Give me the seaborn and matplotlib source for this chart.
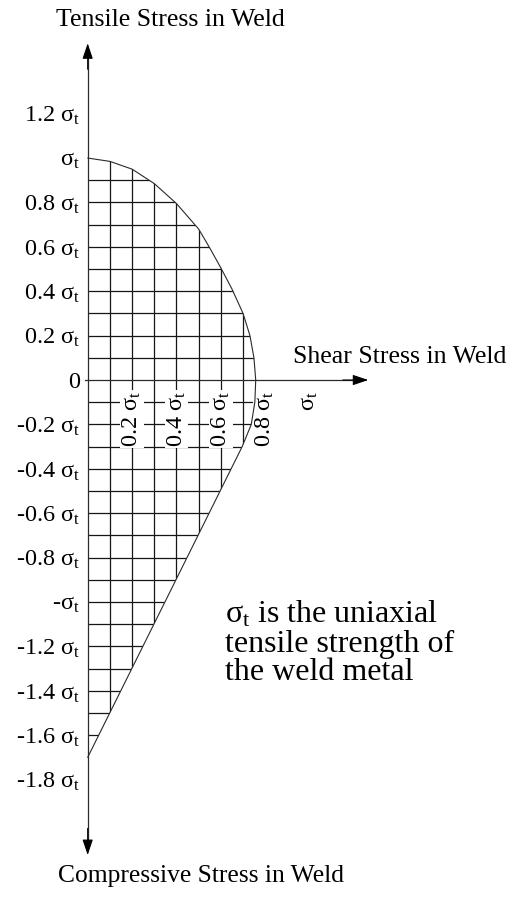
import matplotlib
matplotlib.use("Agg")
import matplotlib.pyplot as plt
from matplotlib.patches import Polygon
import numpy as np
import seaborn as sns

# Weld failure envelope: shear stress vs. normal stress (units of sigma_t)
shear = [0.0, 0.1, 0.2, 0.3, 0.4, 0.5, 0.55, 0.6, 0.65, 0.70,
         0.731, 0.749, 0.757, 0.753, 0.737, 0.696, 0.0]
normal = [1.0, 0.985, 0.950, 0.885, 0.795, 0.68, 0.595, 0.505, 0.41, 0.30,
          0.2, 0.1, 0.0, -0.1, -0.2, -0.3, -1.7]

# Hatching grid inside the envelope
grid_x = [0.1, 0.2, 0.3, 0.4, 0.5, 0.6, 0.7]
grid_y = [0.9, 0.8, 0.7, 0.6, 0.5, 0.4, 0.3, 0.2, 0.1,
          -0.1, -0.2, -0.3, -0.4, -0.5, -0.6, -0.7, -0.8, -0.9, -1.0,
          -1.1, -1.2, -1.3, -1.4, -1.5, -1.6]

# Axis ticks and labels
x_ticks = [0.2, 0.4, 0.6, 0.8, 1.0]
x_labels = [r"0.2 $\sigma_{t}$", r"0.4 $\sigma_{t}$", r"0.6 $\sigma_{t}$",
            r"0.8 $\sigma_{t}$", r"$\sigma_{t}$"]
y_ticks = [1.2, 1.0, 0.8, 0.6, 0.4, 0.2, 0.0, -0.2, -0.4, -0.6, -0.8,
           -1.0, -1.2, -1.4, -1.6, -1.8]
y_labels = [r"1.2 $\sigma_{t}$", r"$\sigma_{t}$", r"0.8 $\sigma_{t}$",
            r"0.6 $\sigma_{t}$", r"0.4 $\sigma_{t}$", r"0.2 $\sigma_{t}$", "0",
            r"-0.2 $\sigma_{t}$", r"-0.4 $\sigma_{t}$", r"-0.6 $\sigma_{t}$",
            r"-0.8 $\sigma_{t}$", r"-$\sigma_{t}$", r"-1.2 $\sigma_{t}$",
            r"-1.4 $\sigma_{t}$", r"-1.6 $\sigma_{t}$", r"-1.8 $\sigma_{t}$"]

note_lines = [r"$\sigma_{t}$ is the uniaxial", "tensile strength of",
              "the weld metal"]

sns.set_theme(style="white")
plt.rcParams["font.family"] = ["Liberation Serif", "DejaVu Serif"]
plt.rcParams["mathtext.fontset"] = "custom"
plt.rcParams["mathtext.rm"] = "Liberation Serif"
plt.rcParams["mathtext.it"] = "Liberation Serif"
plt.rcParams["mathtext.bf"] = "Liberation Serif:bold"

ink = "#2a2a2a"
grid_ink = "#161616"

fig = plt.figure(figsize=(5.11, 8.97), dpi=100)
ax = fig.add_axes([0, 0, 1, 1])
ax.set_xlim(-0.395, 1.907)
ax.set_ylim(-2.329, 1.712)
ax.set_facecolor("white")

# Envelope outline
sns.lineplot(x=shear, y=normal, sort=False, estimator=None, ax=ax,
             color=ink, linewidth=0.8, zorder=3)

# Region enclosed by the envelope and the vertical axis, used to clip the grid
region = Polygon(np.column_stack([shear, normal]), closed=True,
                 transform=ax.transData, facecolor="none", edgecolor="none")
ax.add_patch(region)

hl = ax.hlines(grid_y, 0.0, 0.8, colors=grid_ink, linewidth=0.9, zorder=2)
vl = ax.vlines(grid_x, -1.7, 1.0, colors=grid_ink, linewidth=0.9, zorder=2)
hl.set_clip_path(region)
vl.set_clip_path(region)

# Axes through the origin
for side in ["top", "right"]:
    ax.spines[side].set_visible(False)
ax.spines["left"].set_position(("data", 0))
ax.spines["bottom"].set_position(("data", 0))
ax.spines["left"].set_bounds(-2.10, 1.48)
ax.spines["bottom"].set_bounds(-0.012, 1.23)
for side in ["left", "bottom"]:
    ax.spines[side].set_color(ink)
    ax.spines[side].set_linewidth(0.9)
ax.set_axisbelow(False)

ax.set_yticks(y_ticks, y_labels)
ax.set_xticks(x_ticks, x_labels, rotation=90)
ax.tick_params(axis="y", direction="inout", length=5, width=0.8, pad=3,
               labelsize=17.5, colors="black", color=ink)
ax.tick_params(axis="x", direction="in", length=5, width=0.8, pad=8,
               labelsize=17.5, colors="black", color=ink)
for lab in ax.get_xticklabels():
    lab.set_bbox(dict(facecolor="white", edgecolor="none", pad=0.5))

# Arrow heads
arrow = dict(arrowstyle="-|>,head_length=0.95,head_width=0.32",
             mutation_scale=10, color="black", lw=0.8, shrinkA=0, shrinkB=0)
ax.annotate("", xy=(0, 1.517), xytext=(0, 1.40), arrowprops=arrow)
ax.annotate("", xy=(0, -2.14), xytext=(0, -2.02), arrowprops=arrow)
ax.annotate("", xy=(1.264, 0), xytext=(1.15, 0), arrowprops=arrow)

# Axis titles
ax.text(0.371, 1.595, "Tensile Stress in Weld", ha="center", va="baseline",
        fontsize=18.6, color="black")
ax.text(0.51, -2.26, "Compressive Stress in Weld", ha="center",
        va="baseline", fontsize=18.4, color="black")
ax.text(0.925, 0.075, "Shear Stress in Weld", ha="left", va="baseline",
        fontsize=18.6, color="black")

# Note
for line, yb in zip(note_lines, [-1.093, -1.224, -1.352]):
    ax.text(0.618, yb, line, ha="left", va="baseline", fontsize=23,
            color="black")

fig.savefig("out.png", dpi=100, facecolor="white")
